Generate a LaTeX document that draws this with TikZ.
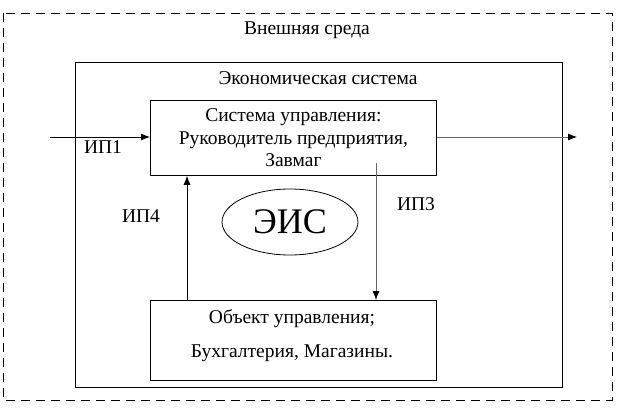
\documentclass[tikz,border=0pt]{standalone}
\usepackage{fontspec}
\setmainfont{Liberation Serif}
\usetikzlibrary{arrows.meta,shapes.geometric}
\begin{document}
\begin{tikzpicture}[x=1pt,y=-1pt,
  box/.style={draw,line width=0.8pt,inner sep=0pt},
  lbl/.style={font=\fontsize{19.5}{22}\selectfont,inner sep=0pt},
  arr/.style={line width=0.8pt,-{Latex[length=9pt,width=7pt,color=black]}},
  garr/.style={arr,draw=black!60}]
\useasboundingbox[fill=white] (0,0) rectangle (638,413);
\draw[line width=0.8pt,dash pattern=on 9pt off 6pt] (3,13) rectangle (612,400);
\node[lbl] (env) at (307,30) {Внешняя среда};
\draw[line width=0.8pt] (75,62) rectangle (562,387);
\node[lbl] (es) at (318,78) {Экономическая система};
\node[box,minimum width=286pt,minimum height=75pt,anchor=north west,align=center,
  font=\fontsize{19.5}{22.5}\selectfont] (top) at (150,100) {Система управления:\\Руководитель предприятия,\\Завмаг};
\node[box,minimum width=286pt,minimum height=80pt,anchor=north west] (bot) at (150,300) {};
\node[align=center,inner sep=0pt,font=\fontsize{19.5}{34}\selectfont] (bottxt) at (292,336) {Объект управления;\\Бухгалтерия, Магазины.};
\node[draw,ellipse,line width=0.8pt,minimum width=136pt,minimum height=66pt,inner sep=0pt,
  font=\fontsize{36}{40}\selectfont] (eis) at (290,222) {ЭИС};
\coordinate (in) at (50,137);
\coordinate (out) at (577,137);
\draw[arr] (in) -- (in -| top.west);
\draw[garr] (out -| top.east) -- (out);
\coordinate (d0) at (376,163);
\draw[garr] (d0) -- (d0 |- bot.north);
\coordinate (u0) at (187,300);
\draw[arr] (u0) -- (u0 |- top.south);
\node[lbl] (ip1) at (103,147) {ИП1};
\node[lbl] (ip4) at (141,216) {ИП4};
\node[lbl] (ip3) at (416,204) {ИП3};
\end{tikzpicture}
\end{document}
